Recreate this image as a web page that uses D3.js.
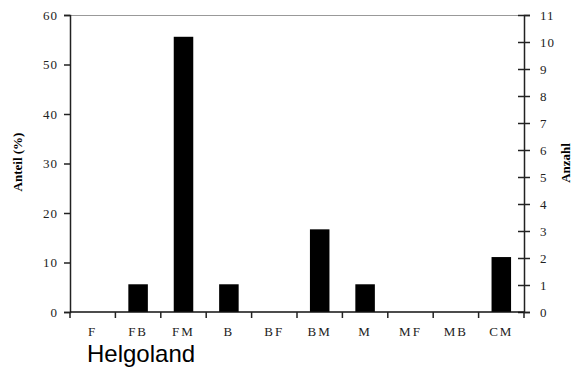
<!DOCTYPE html>
<html>
<head>
<meta charset="utf-8">
<script src="https://cdn.jsdelivr.net/npm/d3@7"></script>
<style>
body { margin: 0; background: #fff; }
text { font-family: "Liberation Serif", "Times New Roman", serif; }
</style>
</head>
<body>
<svg id="chart"></svg>
<script>
var width = 572;
var height = 372;

var categories = ["F", "FB", "FM", "B", "BF", "BM", "M", "MF", "MB", "CM"];
var anteil = [0, 5.6, 55.6, 5.6, 0, 16.7, 5.6, 0, 0, 11.1];
var leftTicks = [0, 10, 20, 30, 40, 50, 60];
var rightTicks = [0, 1, 2, 3, 4, 5, 6, 7, 8, 9, 10, 11];

var plotLeft = 70, plotRight = 524, plotTop = 15, plotBottom = 312;

var svg = d3.select("#chart").attr("width", width).attr("height", height);

var x = d3.scaleBand().domain(categories).range([plotLeft, plotRight]).paddingInner(0.57).paddingOuter(0.285);
var xb = d3.scaleBand().domain(categories).range([plotLeft, plotRight]);
var y = d3.scaleLinear().domain([0, 60]).range([plotBottom, plotTop]);
var y2 = d3.scaleLinear().domain([0, 11]).range([plotBottom, plotTop]);

// top border
svg.append("line")
    .attr("x1", plotLeft).attr("x2", plotRight)
    .attr("y1", plotTop + 0.5).attr("y2", plotTop + 0.5)
    .attr("stroke", "#999").attr("stroke-width", 1);

// bars
svg.append("g").selectAll("rect")
    .data(categories)
    .enter().append("rect")
    .attr("x", function(d) { return x(d); })
    .attr("width", x.bandwidth())
    .attr("y", function(d, i) { return y(anteil[i]); })
    .attr("height", function(d, i) { return plotBottom - y(anteil[i]); })
    .attr("fill", "#000");

// left axis
var yAxis = svg.append("g")
    .attr("transform", "translate(" + plotLeft + ",0)")
    .call(d3.axisLeft(y).tickValues(leftTicks).tickSize(6).tickPadding(6));
yAxis.select(".domain").attr("stroke", "#222").attr("stroke-width", 1.5);
yAxis.selectAll(".tick line").attr("stroke", "#222").attr("stroke-width", 1.5);
yAxis.selectAll(".tick text").attr("font-size", 13).attr("fill", "#222")
    .style("font-family", "Liberation Serif").attr("letter-spacing", 1);

// right axis
var y2Axis = svg.append("g")
    .attr("transform", "translate(" + plotRight + ",0)")
    .call(d3.axisRight(y2).tickValues(rightTicks).tickSize(6).tickPadding(10));
y2Axis.select(".domain").attr("stroke", "#222").attr("stroke-width", 1.5);
y2Axis.selectAll(".tick line").attr("x1", -6).attr("stroke", "#222").attr("stroke-width", 1.5);
y2Axis.selectAll(".tick text").attr("font-size", 13).attr("fill", "#222")
    .style("font-family", "Liberation Serif").attr("letter-spacing", 1);

// bottom axis line + ticks at band edges
svg.append("line")
    .attr("x1", plotLeft).attr("x2", plotRight)
    .attr("y1", plotBottom).attr("y2", plotBottom)
    .attr("stroke", "#111").attr("stroke-width", 1.5);
var edges = categories.map(function(d) { return xb(d); }).concat([plotRight]);
svg.append("g").selectAll("line")
    .data(edges)
    .enter().append("line")
    .attr("x1", function(d) { return d; }).attr("x2", function(d) { return d; })
    .attr("y1", plotBottom).attr("y2", plotBottom + 6)
    .attr("stroke", "#222").attr("stroke-width", 1.5);

// category labels
svg.append("g").selectAll("text")
    .data(categories)
    .enter().append("text")
    .attr("x", function(d) { return xb(d) + xb.bandwidth() / 2; })
    .attr("y", 336)
    .attr("text-anchor", "middle")
    .attr("font-size", 13)
    .attr("letter-spacing", 2)
    .attr("fill", "#222")
    .text(function(d) { return d; });

// axis titles
svg.append("text")
    .attr("transform", "translate(22,162) rotate(-90)")
    .attr("text-anchor", "middle")
    .attr("font-size", 13)
    .attr("font-weight", "bold")
    .text("Anteil (%)");

svg.append("text")
    .attr("transform", "translate(570,163) rotate(-90)")
    .attr("text-anchor", "middle")
    .attr("font-size", 13)
    .attr("font-weight", "bold")
    .text("Anzahl");

svg.append("text")
    .attr("x", 87)
    .attr("y", 362)
    .style("font-family", "Liberation Sans, Arial, sans-serif")
    .attr("font-size", 24)
    .text("Helgoland");
</script>
</body>
</html>
